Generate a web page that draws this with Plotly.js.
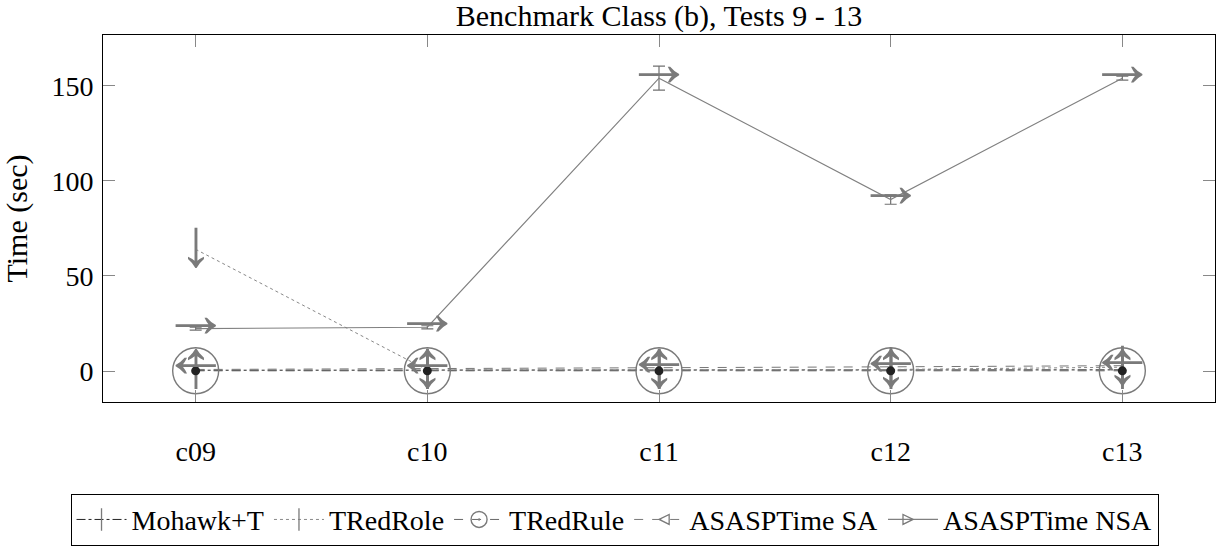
<!DOCTYPE html>
<html><head><meta charset="utf-8">
<script src="https://cdn.plot.ly/plotly-3.0.1.min.js"></script>
<style>body{margin:0;background:#fff}</style>
</head><body>
<div id="chart" style="width:1217px;height:550px"></div>
<script>
const categories = ['c09', 'c10', 'c11', 'c12', 'c13'];
const mohawkT = [0.4, 0.4, 0.5, 0.5, 0.6];
const tredRole = [64, 0.5, 0.6, 0.8, 2.0];
const tredRule = [0.1, 0.1, 0.1, 0.1, 0.1];
const asaspSA = [0.8, 1.2, 1.6, 2.2, 2.8];
const asaspNSA = [22.3, 23.0, 154, 90.2, 154.0];
const asaspNSAErr = [0.8, 0.8, 6.3, 2.5, 1.0];
const yTicks = [0, 50, 100, 150];

const gray = '#7a7a7a';
const serif = '"Liberation Serif", "Times New Roman", Times, serif';

// vertical arrows: centred on the point
function vGlyphs(y, ch) {
  return {
    x: categories, y: y, mode: 'text', type: 'scatter',
    text: categories.map(() => ch), textposition: 'middle center',
    textfont: {family: serif, size: 68, color: gray},
    showlegend: false, hoverinfo: 'skip', cliponaxis: false
  };
}
// horizontal arrows: shaft sits a little above the point, as in the reference
function hGlyphs(y, ch) {
  return {
    x: categories, y: y, mode: 'text', type: 'scatter',
    text: categories.map(() => '<span style="font-size:68px">' + ch + '</span>'),
    textposition: 'middle center',
    textfont: {family: serif, size: 32, color: gray},
    showlegend: false, hoverinfo: 'skip', cliponaxis: false
  };
}
const hidden = {selectedpoints: [], unselected: {marker: {opacity: 0}}};

const traces = [
  Object.assign({x: categories, y: mohawkT, name: 'Mohawk+T', mode: 'lines+markers', type: 'scatter',
   line: {color: '#222', width: 1, dash: 'dashdot'},
   marker: {symbol: 'line-ns-open', size: 16, color: gray, line: {color: gray, width: 1.3}}}, hidden),
  Object.assign({x: categories, y: tredRole, name: 'TRedRole', mode: 'lines+markers', type: 'scatter',
   line: {color: '#888', width: 1, dash: 'dot'},
   marker: {symbol: 'line-ns-open', size: 16, color: gray, line: {color: gray, width: 1.3}}}, hidden),
  {x: categories, y: tredRule, name: 'TRedRule', mode: 'lines+markers', type: 'scatter',
   line: {color: '#666', width: 1, dash: 'dash'},
   marker: {symbol: 'circle-open-dot', size: 46, color: gray, line: {color: gray, width: 1.4}}},
  Object.assign({x: categories, y: asaspSA, name: 'ASASPTime SA', mode: 'lines+markers', type: 'scatter',
   line: {color: '#777', width: 1, dash: 'dash'},
   marker: {symbol: 'arrow-left-open', size: 10, color: gray, line: {color: gray, width: 1.3}}}, hidden),
  Object.assign({x: categories, y: asaspNSA, name: 'ASASPTime NSA', mode: 'lines+markers', type: 'scatter',
   line: {color: '#808080', width: 1.2},
   error_y: {type: 'data', array: asaspNSAErr, visible: true, color: '#707070', thickness: 1.2, width: 6},
   marker: {symbol: 'arrow-right-open', size: 10, color: gray, line: {color: gray, width: 1.3}}}, hidden),
  vGlyphs(mohawkT, '\u2191'),
  vGlyphs(tredRole, '\u2193'),
  {x: categories, y: tredRule, mode: 'markers', type: 'scatter', showlegend: false, hoverinfo: 'skip',
   marker: {symbol: 'circle', size: 9, color: '#222'}},
  hGlyphs(asaspSA, '\u2190'),
  hGlyphs(asaspNSA, '\u2192')
];

const layout = {
  width: 1217, height: 550,
  margin: {l: 103, r: 2, t: 35, b: 148, autoexpand: false},
  paper_bgcolor: '#fff', plot_bgcolor: '#fff',
  font: {family: serif, size: 28, color: '#000'},
  title: {text: 'Benchmark Class (b), Tests 9 - 13', x: 0.5, xanchor: 'center', xref: 'paper',
          y: 1 - 15 / 550, yref: 'container', yanchor: 'middle', font: {family: serif, size: 30, color: '#000'}},
  showlegend: true,
  xaxis: {type: 'category', range: [-0.4, 4.4], showline: true, linecolor: '#000', linewidth: 1,
          mirror: 'ticks', ticks: 'inside', ticklen: 12, tickcolor: '#888', tickwidth: 1,
          showgrid: false, zeroline: false, ticklabelstandoff: 24, fixedrange: true,
          tickfont: {family: serif, size: 28}},
  yaxis: {range: [-16.3, 176.7], tickvals: yTicks, ticktext: yTicks.map(String),
          showline: true, linecolor: '#000', linewidth: 1, mirror: 'ticks', ticks: 'inside',
          ticklen: 12, tickcolor: '#888', tickwidth: 1, showgrid: false, zeroline: false,
          ticklabelstandoff: 3, automargin: false, tickfont: {family: serif, size: 28},
          title: {text: 'Time (sec)', standoff: 16, font: {family: serif, size: 30}}},
  legend: {orientation: 'h', x: 0.46, xanchor: 'center', y: -0.25, yanchor: 'top',
           bordercolor: '#000', borderwidth: 1, font: {family: serif, size: 28, color: '#000'},
           itemwidth: 50, bgcolor: '#fff', tracegroupgap: 0}
};

Plotly.newPlot('chart', traces, layout, {displayModeBar: false, staticPlot: true});
</script>
</body></html>
